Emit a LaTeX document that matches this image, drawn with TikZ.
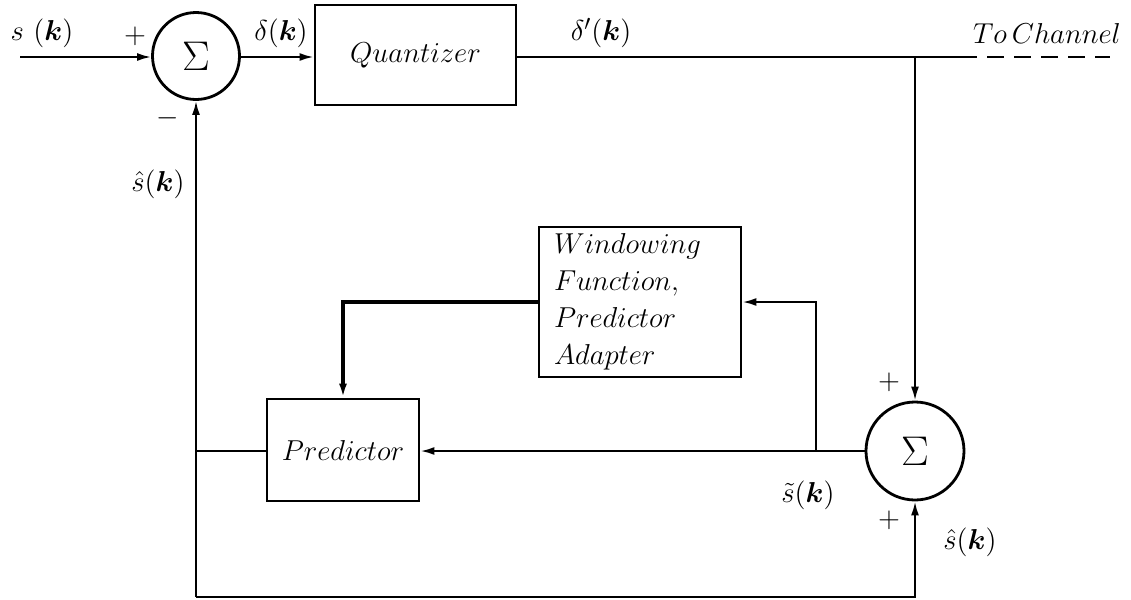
\documentclass[tikz,border=0pt]{standalone}
\usepackage{bm}
\usetikzlibrary{arrows.meta,calc}
\begin{document}
\begin{tikzpicture}[x=0.5pt,y=-0.5pt,
  line width=1.1pt,
  >={Latex[length=7pt,width=4pt]},
  font=\fontsize{15.6}{18.5}\selectfont,
  blk/.style={draw, line width=1.4pt, inner sep=0pt, rectangle},
  sumnode/.style={draw, circle, line width=1.4pt, inner sep=0pt,
    font=\fontsize{20}{24}\selectfont},
  lbl/.style={inner sep=0pt}
]
\useasboundingbox (0,0) rectangle (1131,600);

% blocks
\node[sumnode, minimum size=43.5pt] (s1) at (196,56) {$\Sigma$};
\node[blk, minimum width=100.5pt, minimum height=50pt] (q) at (415.5,55) {$Quantizer$\vphantom{$y$}};
\node[blk, minimum height=75pt, align=left, text width=86pt, inner xsep=7.5pt] (w) at (640,302)
  {$Windowing$\\$Function,$\\$Predictor$\\$Adapter$};
\node[blk, minimum width=76pt, minimum height=51pt] (p) at (343,450) {$Predictor$};
\node[sumnode, minimum size=49pt] (s2) at (915,451) {$\Sigma$};

% helper points
\coordinate (in) at (20,57);
\coordinate (tap) at (915,57);
\coordinate (dash0) at (960,57);
\coordinate (dash1) at (1110,57);
\coordinate (br) at (816,451);
\coordinate (bot) at (0,597);

% forward path
\draw[->] (in) -- (s1.west |- in);
\draw[->] (s1.east |- in) -- (q.west |- in);
\draw (q.east |- in) -- (dash0);
\draw[dash pattern=on 8.5pt off 5pt] (dash0) -- (dash1);
\draw[->] (tap) -- (s2.north);

% local reconstruction loop
\draw[->] (s2.west) -- (p.east |- s2.west);
\draw[->] (br) |- (w.east);
\draw[->, line width=2.2pt] (w.west) -| (p.north);
\draw (p.west |- s2.west) -- (s1.south |- s2.west);
\draw[->] (s1.south |- bot) -- (s1.south);
\draw[->] (s1.south |- bot) -- (s2.south |- bot) -- (s2.south);

% signal labels
\node[lbl] (ls) at (42,33) {$s\ (\bm{k})$};
\node[lbl] (lp1) at (135,36) {$+$};
\node[lbl] (lm1) at (168,118) {$-$};
\node[lbl] (ld) at (281,33) {$\delta(\bm{k})$};
\node[lbl] (ldq) at (601,33) {$\delta'(\bm{k})$};
\node[lbl, anchor=east] (lch) at (1122,33) {$To\,Channel$};
\node[lbl] (lsh1) at (158,184) {$\hat{s}(\bm{k})$};
\node[lbl] (lp2) at (889,382) {$+$};
\node[lbl] (lp3) at (889,520) {$+$};
\node[lbl] (lst) at (808,495) {$\tilde{s}(\bm{k})$};
\node[lbl] (lsh2) at (970,542) {$\hat{s}(\bm{k})$};
\end{tikzpicture}
\end{document}
